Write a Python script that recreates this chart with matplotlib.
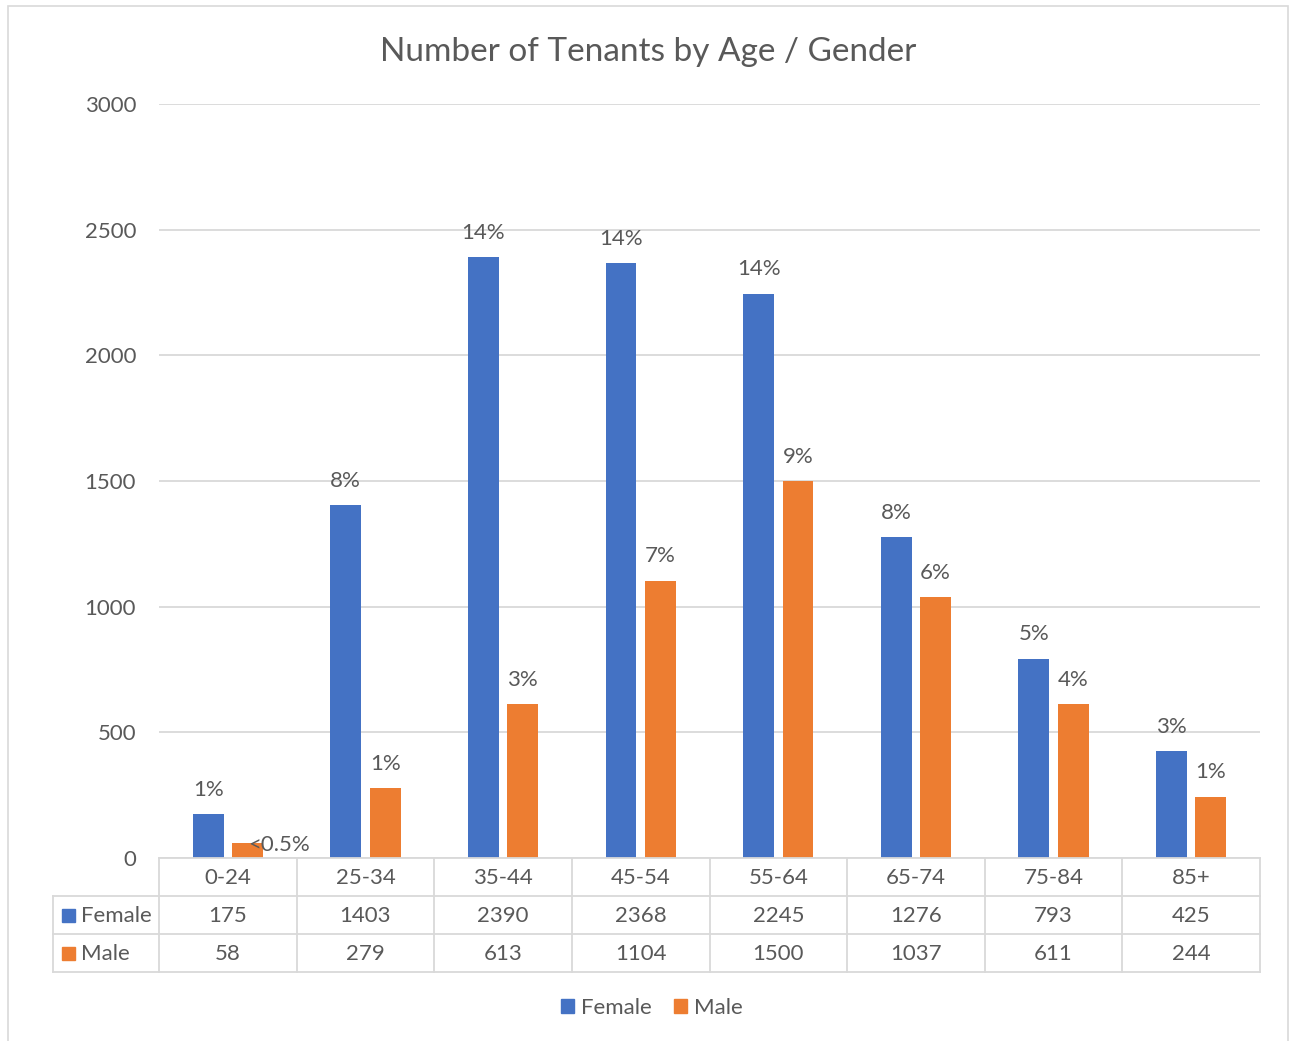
import matplotlib
matplotlib.use("Agg")
import matplotlib.pyplot as plt
import matplotlib.transforms as mtransforms
from matplotlib.patches import Rectangle, Patch
from matplotlib.lines import Line2D
import numpy as np

categories = ["0-24", "25-34", "35-44", "45-54", "55-64", "65-74", "75-84", "85+"]
female = [175, 1403, 2390, 2368, 2245, 1276, 793, 425]
male = [58, 279, 613, 1104, 1500, 1037, 611, 244]
female_pct = ["1%", "8%", "14%", "14%", "14%", "8%", "5%", "3%"]
male_pct = ["<0.5%", "1%", "3%", "7%", "9%", "6%", "4%", "1%"]
series_names = ["Female", "Male"]
yticks = [0, 500, 1000, 1500, 2000, 2500, 3000]

BLUE = "#4472C4"
ORANGE = "#ED7D31"
TXT = "#595959"
GRID = "#D9D9D9"
FONT = "Lato"
FS = 16

W, H = 1296, 1041
plt.rcParams['font.family'] = [FONT, 'DejaVu Sans']
fig = plt.figure(figsize=(W / 100, H / 100), dpi=100)

def fx(px):
    return px / W

def fy(py):
    return 1 - py / H

# outer chart border
fig.add_artist(Rectangle((fx(8), fy(1045)), fx(1288) - fx(8), fy(6) - fy(1045),
                         transform=fig.transFigure, fill=False, edgecolor=GRID, lw=1.2))

left, right, top, bottom = 159, 1260, 104, 858
ax = fig.add_axes([fx(left), fy(bottom), fx(right) - fx(left), fy(top) - fy(bottom)])
x = np.arange(len(categories))
bw = 0.225
off = 0.143
ax.bar(x - off, female, bw, color=BLUE, zorder=3)
ax.bar(x + off, male, bw, color=ORANGE, zorder=3)
ax.set_xlim(-0.5, len(categories) - 0.5)
ax.set_ylim(0, 3000)
ax.set_yticks(yticks)
ax.set_yticklabels([str(t) for t in yticks], fontsize=FS, color=TXT)
ax.tick_params(axis='y', length=0, pad=16.5)
ax.set_xticks([])
for s in ax.spines.values():
    s.set_visible(False)
ax.grid(axis='y', color=GRID, lw=1.3, zorder=0)

# data labels
for i in range(len(categories)):
    ax.annotate(female_pct[i], (x[i] - off, female[i]), xytext=(0, 17.5), textcoords='offset points',
                ha='center', va='center', fontsize=FS, color=TXT)
    if i == 0:
        ax.annotate(male_pct[i], (x[i] + off, male[i]), xytext=(23, -1), textcoords='offset points',
                    ha='center', va='center', fontsize=FS, color=TXT, zorder=5)
    else:
        ax.annotate(male_pct[i], (x[i] + off, male[i]), xytext=(0, 17.5), textcoords='offset points',
                    ha='center', va='center', fontsize=FS, color=TXT)

fig.text(fx(648), fy(52), "Number of Tenants by Age / Gender", ha='center', va='center',
         fontsize=24, color=TXT)

# data table
tr = mtransforms.blended_transform_factory(ax.transData, fig.transFigure)
rows_y = [858, 896, 934, 972]
lw = 1.3
fig.add_artist(Line2D([fx(left), fx(right)], [fy(858), fy(858)], transform=fig.transFigure, color=GRID, lw=lw))
for yy in rows_y[1:]:
    fig.add_artist(Line2D([fx(53), fx(right)], [fy(yy), fy(yy)], transform=fig.transFigure, color=GRID, lw=lw))
for b in np.arange(-0.5, len(categories) + 0.5, 1.0):
    fig.add_artist(Line2D([b, b], [fy(858), fy(972)], transform=tr, color=GRID, lw=lw))
fig.add_artist(Line2D([fx(53), fx(53)], [fy(896), fy(972)], transform=fig.transFigure, color=GRID, lw=lw))

for i, c in enumerate(categories):
    fig.text(x[i], fy(878), c, transform=tr, ha='center', va='center', fontsize=FS, color=TXT)
    fig.text(x[i], fy(916), str(female[i]), transform=tr, ha='center', va='center', fontsize=FS, color=TXT)
    fig.text(x[i], fy(954), str(male[i]), transform=tr, ha='center', va='center', fontsize=FS, color=TXT)

for yc, name, col in [(915, series_names[0], BLUE), (953, series_names[1], ORANGE)]:
    fig.add_artist(Rectangle((fx(62), fy(yc + 6.5)), fx(13), fy(yc - 6.5) - fy(yc + 6.5),
                             transform=fig.transFigure, color=col))
    fig.text(fx(81), fy(yc + 1), name, ha='left', va='center', fontsize=FS, color=TXT)

handles = [Patch(color=BLUE), Patch(color=ORANGE)]
fig.legend(handles, series_names, loc='center', bbox_to_anchor=(fx(652), fy(1008)), ncol=2,
           frameon=False, fontsize=FS, labelcolor=TXT, handlelength=0.6, handleheight=0.6,
           handletextpad=0.3, columnspacing=1.0)

fig.savefig("out.png", dpi=100)
